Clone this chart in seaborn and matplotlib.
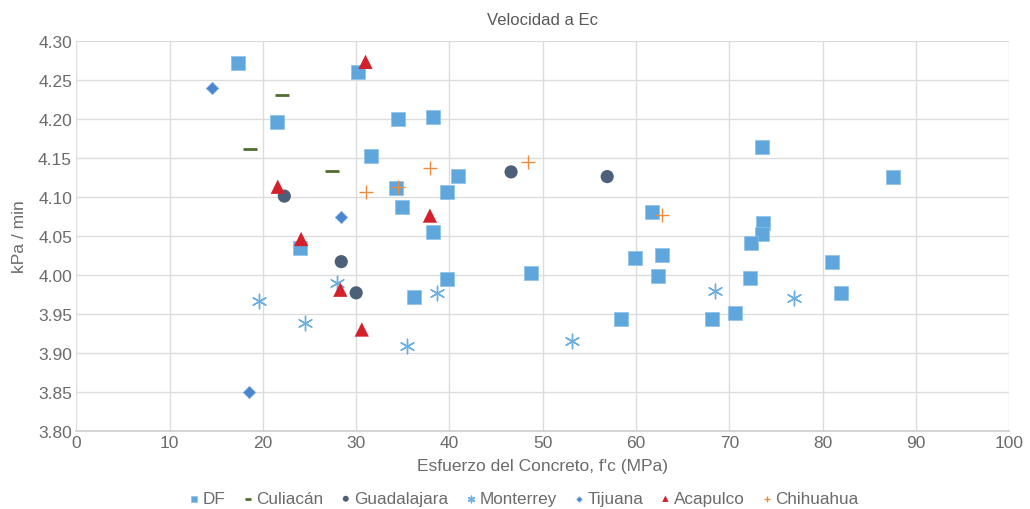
import pandas as pd
import matplotlib
matplotlib.use("Agg")
import matplotlib.pyplot as plt
import numpy as np
import seaborn as sns

# data
df_x = [17.3, 30.2, 21.5, 34.5, 38.2, 31.6, 40.9, 34.3, 39.7, 34.9, 38.2, 24.0, 39.7, 48.7, 36.2,
        73.5, 61.7, 73.6, 73.5, 72.3, 59.9, 62.8, 81.0, 62.3, 72.2, 82.0, 58.4, 68.1, 70.6, 87.5]
df_y = [4.272, 4.260, 4.196, 4.200, 4.203, 4.153, 4.127, 4.112, 4.106, 4.087, 4.055, 4.035, 3.995, 4.002, 3.972,
        4.164, 4.081, 4.067, 4.052, 4.041, 4.022, 4.025, 4.017, 3.998, 3.996, 3.977, 3.943, 3.943, 3.951, 4.126]

culiacan_x = [22.1, 18.6, 27.4]
culiacan_y = [4.231, 4.162, 4.133]

guadalajara_x = [22.3, 46.6, 28.4, 30.0, 56.9]
guadalajara_y = [4.101, 4.132, 4.017, 3.977, 4.126]

monterrey_x = [19.6, 24.5, 27.9, 35.5, 38.7, 53.1, 68.4, 76.9]
monterrey_y = [3.967, 3.938, 3.990, 3.909, 3.977, 3.915, 3.979, 3.970]

tijuana_x = [14.6, 28.4, 18.5]
tijuana_y = [4.240, 4.074, 3.850]

acapulco_x = [31.0, 21.6, 37.9, 24.1, 28.3, 30.6]
acapulco_y = [4.273, 4.113, 4.076, 4.046, 3.981, 3.930]

chihuahua_x = [37.9, 48.4, 31.0, 34.5, 62.8]
chihuahua_y = [4.137, 4.145, 4.106, 4.113, 4.077]

sns.set_theme(style="white")
plt.rcParams['font.family'] = ['Liberation Sans', 'DejaVu Sans']

grey = "#595959"
tick_grey = "#6b6b6b"
fig = plt.figure(figsize=(10.3, 5.1), dpi=100)
ax = fig.add_axes([0.074, 0.153, 0.906, 0.765])

series = [
    ("DF", df_x, df_y, dict(marker="s", color="#5fa6dd", s=100, edgecolor="#8cc0ea", linewidth=0.5)),
    ("Culiacán", culiacan_x, culiacan_y, dict(marker="_", color="#4e6e2e", s=100, linewidth=2.0)),
    ("Guadalajara", guadalajara_x, guadalajara_y, dict(marker="o", color="#4d6079", s=90, edgecolor="none")),
    ("Monterrey", monterrey_x, monterrey_y, dict(marker=(6, 2, 0), color="#6aaee2", s=110, linewidth=1.0)),
    ("Tijuana", tijuana_x, tijuana_y, dict(marker="D", color="#4a86cf", s=40, edgecolor="#7aaee0", linewidth=0.5)),
    ("Acapulco", acapulco_x, acapulco_y, dict(marker="^", color="#d3202a", s=105, edgecolor="none")),
    ("Chihuahua", chihuahua_x, chihuahua_y, dict(marker="+", color="#f08a3c", s=110, linewidth=1.0)),
]

for name, xs, ys, kw in series:
    sns.scatterplot(x=xs, y=ys, ax=ax, label=name, zorder=3, **kw)

ax.set_xlim(0, 100)
ax.set_ylim(3.80, 4.30)
ax.set_xticks(np.arange(0, 101, 10))
ax.set_yticks(np.arange(3.80, 4.301, 0.05))
ax.set_yticklabels([f"{v:.2f}" for v in np.arange(3.80, 4.301, 0.05)])
ax.grid(True, color="#dcdcdc", linewidth=1)
ax.set_axisbelow(True)
for side in ["top", "right", "left"]:
    ax.spines[side].set_visible(False)
ax.spines["bottom"].set_color("#cfcfcf")
ax.tick_params(axis="both", colors=tick_grey, labelsize=12.5, length=0, pad=3)

ax.set_title("Velocidad a Ec", fontsize=12, color=grey, pad=12)
ax.set_xlabel("Esfuerzo del Concreto, f'c (MPa)", fontsize=12.5, color=tick_grey, labelpad=6)
ax.set_ylabel("kPa / min", fontsize=12.5, color=tick_grey, labelpad=8)

leg = ax.legend(loc="upper center", bbox_to_anchor=(0.478, -0.115), ncol=7, frameon=False,
                markerscale=0.45, handletextpad=0.0, columnspacing=0.8, fontsize=12.3,
                handlelength=1.0)
for t in leg.get_texts():
    t.set_color(tick_grey)

fig.savefig("out.png", dpi=100)
